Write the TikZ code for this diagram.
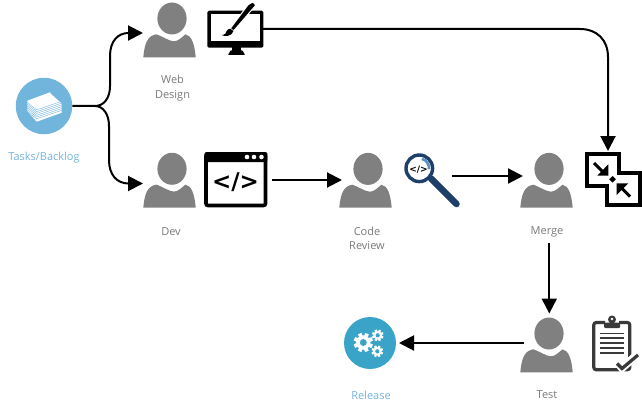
\documentclass[tikz,border=0pt]{standalone}
\usepackage{fontspec}
\setmainfont{Open Sans}
\usetikzlibrary{arrows.meta}
\definecolor{persongray}{HTML}{808080}
\definecolor{labelgray}{HTML}{7A7A7A}
\definecolor{labelblue}{HTML}{74B3DC}
\definecolor{taskblue}{HTML}{72B5DC}
\definecolor{relblue}{HTML}{3AA4C8}
\definecolor{lensblue}{HTML}{1F3F6B}
\definecolor{lenslight}{HTML}{5F92C4}
\definecolor{clipgray}{HTML}{3A3A3A}
\tikzset{
  flow/.style={line width=2pt,draw=black,-{Triangle[length=15pt,width=15pt]}},
  lbl/.style={text=labelgray,font=\fontsize{11}{14.5}\selectfont,align=center,inner sep=0pt},
  lblblue/.style={lbl,text=labelblue},
  disc/.style={circle,inner sep=0pt,draw=none},
  person/.pic={
    \fill[persongray] (2.5,-20) ellipse [x radius=14.6,y radius=16];
    \fill[persongray] (-26.2,18.8) .. controls (-25,5) and (-22,-3) .. (-13,-4.2)
      .. controls (-8,-2.5) and (0,2.8) .. (4.5,2.8)
      .. controls (9,2.8) and (13,-2) .. (16,-4.2)
      .. controls (22,-3) and (25,5) .. (26.2,18.8) -- cycle;
  },
  gear/.pic={
    \fill[white] (0,0) circle [radius=0.74];
    \foreach \a in {0,45,...,315}{\fill[white,rotate=\a+22] (-0.2,0.6) rectangle (0.2,1);}
    \fill[relblue] (0,0) circle [radius=0.36];
  }
}
\begin{document}
\begin{tikzpicture}[x=1pt,y=-1pt]
\useasboundingbox (0,0) rectangle (642,409);
% coordinates for connector ends
\coordinate (webin) at (143,33);
\coordinate (devin) at (143,183.5);
\coordinate (branch) at (95,106);
\coordinate (webout) at (263,29);
\coordinate (mergein) at (608,151);
\coordinate (devout) at (272,180);
\coordinate (crin) at (342,180);
\coordinate (crout) at (452,176);
\coordinate (mgin) at (523,176);
\coordinate (mgout) at (549.3,243);
\coordinate (testin) at (549.3,313.5);
\coordinate (testout) at (524,343);
\coordinate (relin) at (399,343);
% disc nodes
\node[disc,fill=taskblue,minimum size=56.5pt] (tasks) at (44,106) {};
\node[disc,fill=relblue,minimum size=52pt] (release) at (370,343) {};
% connectors
\draw[flow] (tasks.east) -- (branch) .. controls (104,106) and (110,98) .. (110,86) -- (110,56)
  .. controls (110,41) and (118,33) .. (webin);
\draw[flow] (branch) .. controls (103,106) and (109,114) .. (109,126) -- (109,160)
  .. controls (109,175) and (117,183.5) .. (devin);
\draw[flow] (webout) -- (580,29) .. controls (597,29) and (608,40) .. (608,57) -- (mergein);
\draw[flow] (devout) -- (crin);
\draw[flow] (crout) -- (mgin);
\draw[flow] (mgout) -- (testin);
\draw[flow] (testout) -- (relin);
% persons
\pic at (169.5,38.5) {person};
\pic at (169.5,188.8) {person};
\pic at (365.5,188.9) {person};
\pic at (546.5,188.9) {person};
\pic at (546.5,353.5) {person};
% paper stack
\fill[white] (27.3,100.7) -- (50,92.3) -- (51,94) -- (61.7,103.5) -- (61.7,112.7) -- (36.7,121.7) -- (27.3,111) -- cycle;
\foreach \d in {1.8,3.6,...,12}{
  \draw[taskblue,line width=0.4pt] (27.3,{100.7+\d}) -- (36.7,{108+\d}) -- (61.7,{99.5+\d});
}
% gears
\pic[scale=9.6] at (363.3,342.5) {gear};
\pic[scale=5.8] at (377.7,335.3) {gear};
\pic[scale=5.8] at (377.3,351.3) {gear};
% monitor and brush
\fill[black,rounded corners=1.5pt] (207.3,10.7) rectangle (263.3,47.7);
\fill[white] (210.8,14.2) rectangle (260,40.7);
\fill[black] (232,47) rectangle (241,52);
\fill[black,rounded corners=0.6pt] (228,55) -- (230.5,50.5) -- (242.5,50.5) -- (245,55) -- cycle;
\fill[black,draw=white,line width=1pt,rounded corners=0.8pt] (248.3,4.5) -- (252.7,2) -- (256,5) -- (233.6,31) -- (230.3,28.5) -- cycle;
\fill[black] (230.3,28.8) .. controls (226.5,29) and (226.5,32) .. (225.5,33.5) .. controls (224.8,34.6) and (223,35) .. (221.7,35)
  .. controls (225,37) and (231.5,36.5) .. (233.6,31) -- cycle;
% code window
\draw[black,line width=3.6pt,rounded corners=2pt,fill=white] (206,153.8) rectangle (265.5,205.5);
\fill[black,rounded corners=1.5pt] (204.5,152) rectangle (267.3,162);
\foreach \x in {247,254,261.5}{\fill[white] (\x,157) circle [radius=2.3];}
\node[inner sep=0pt,font=\fontspec{DejaVu Sans Bold}\fontsize{23}{23}\selectfont] (codetag) at (235.5,182) {</>};
% magnifier
\draw[lensblue,line width=6.5pt,line cap=round] (431,178.5) -- (456.5,204);
\draw[lensblue,line width=3.4pt,fill=white] (419.3,168.3) circle [radius=13.3];
\draw[lenslight,line width=2.6pt] (419.3,168.3) ++(-75:9.8) arc [start angle=-75,end angle=5,radius=9.8];
\node[inner sep=0pt,font=\fontspec{DejaVu Sans Bold}\fontsize{9}{9}\selectfont] (lenstag) at (418.5,169.5) {</>};
% merge icon
\draw[black,line width=3.5pt,line join=miter,fill=white] (619,172.8) -- (619,154) -- (587,154) -- (587,186) -- (606.8,186) -- (606.8,205) -- (640,205) -- (640,172.8) -- cycle;
\draw[black,line width=3pt] (594,163) -- (604,173);
\fill[black] (608.3,164.3) -- (597.3,175.7) -- (608.3,175.7) -- cycle;
\draw[black,line width=3pt] (630,196.5) -- (620,186.5);
\fill[black] (616.7,195) -- (628.3,183.3) -- (616.7,183.3) -- cycle;
\fill[white] (612.5,173.5) -- (618.3,179.3) -- (612.5,185) -- (606.7,179.3) -- cycle;
\fill[black] (612.5,176) -- (615.8,179.3) -- (612.5,182.6) -- (609.2,179.3) -- cycle;
% clipboard
\draw[clipgray,line width=3.2pt,rounded corners=2.5pt] (605,322.5) -- (593.8,322.5) -- (593.8,369.8) -- (629.8,369.8) -- (629.8,322.5) -- (619,322.5);
\fill[clipgray,rounded corners=1pt] (604,322.5) rectangle (620,328);
\fill[clipgray] (612,319.5) circle [radius=4];
\fill[white] (612,319) circle [radius=1.3];
\foreach \y in {333.5,338.4,343.3,348.2,353.1}{\draw[clipgray,line width=1.9pt] (599.5,\y) -- (623.5,\y);}
\draw[white,line width=8pt] (617,362) -- (622,368) -- (638,354);
\draw[clipgray,line width=3.2pt] (617,363.5) -- (622,368.5) -- (638,355);
% labels
\node[lblblue] (tasksl) at (44,158) {Tasks/Backlog};
\node[lbl] (webl) at (172.5,88) {Web\\Design};
\node[lbl] (devl) at (171,231.5) {Dev};
\node[lbl] (crl) at (367,238.5) {Code\\Review};
\node[lbl] (mergel) at (547,231.5) {Merge};
\node[lbl] (testl) at (547,395) {Test};
\node[lblblue] (rell) at (371,395) {Release};
\end{tikzpicture}
\end{document}
